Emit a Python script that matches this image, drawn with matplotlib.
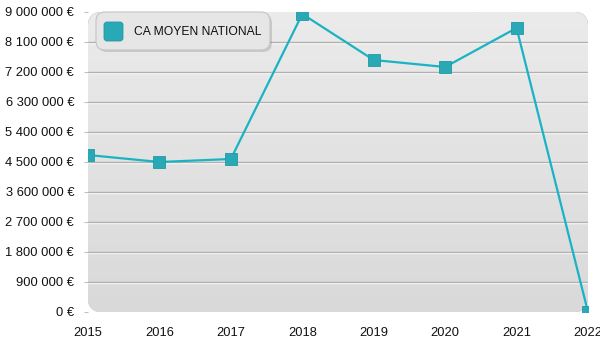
import numpy as np
import matplotlib.pyplot as plt
from matplotlib.colors import LinearSegmentedColormap
from matplotlib.patches import FancyBboxPatch
import matplotlib.transforms as mtransforms

plt.rcParams['font.family'] = ['Liberation Sans', 'DejaVu Sans']

years = [2015, 2016, 2017, 2018, 2019, 2020, 2021, 2022]
ca_moyen = [4710000, 4500000, 4590000, 8940000, 7560000, 7350000, 8520000, 0]
yticks = [0, 900000, 1800000, 2700000, 3600000, 4500000, 5400000, 6300000, 7200000, 8100000, 9000000]
series_label = "CA MOYEN NATIONAL"

line_color = '#1ab3c3'
marker_color = '#28a9b5'


def fmt_euro(v):
    return f"{v:,.0f} €".replace(",", " ")


fig = plt.figure(figsize=(6, 3.5), dpi=100)
ax = fig.add_axes([88 / 600, 38 / 350, 500 / 600, 300 / 350])
ax.set_facecolor('none')

# rounded gradient background
bg = FancyBboxPatch((0, 0), 1, 1, boxstyle="round,pad=0,rounding_size=0.03",
                    transform=ax.transAxes, facecolor='none', edgecolor='#cccccc',
                    lw=0.8, mutation_aspect=500 / 300, zorder=0)
ax.add_patch(bg)
grad = np.linspace(0, 1, 256).reshape(-1, 1)
cmap = LinearSegmentedColormap.from_list('bg', ['#d9d9d9', '#ebebeb'])
img = ax.imshow(grad, cmap=cmap, aspect='auto', origin='lower',
                extent=[2015, 2022, 0, 9000000], zorder=0)
img.set_clip_path(bg)
ax.set_xlim(2015, 2022)
ax.set_ylim(0, 9000000)

# embossed gridlines
ytrans = ax.get_yaxis_transform()
white_off = mtransforms.ScaledTranslation(0, -1 / 100, fig.dpi_scale_trans)
for v in yticks[1:-1]:
    ax.plot([0, 1], [v, v], color='#ffffff', lw=1.0, zorder=1, transform=ytrans + white_off)
    ax.plot([0, 1], [v, v], color='#b0b0b0', lw=1.0, zorder=1.1, transform=ytrans)

ax.plot(years, ca_moyen, color=line_color, lw=1.6, zorder=3)
ax.plot(years, ca_moyen, ls='none', marker='s', ms=9, mfc=marker_color,
        mec='#2199a5', mew=0.6, zorder=4)

for s in ax.spines.values():
    s.set_visible(False)
ax.set_yticks(yticks)
ax.set_yticklabels([fmt_euro(v) for v in yticks])
ax.set_xticks(years)
ax.set_xticklabels([str(y) for y in years])
ax.tick_params(axis='y', length=3, color='#c0c0c0', pad=7, labelsize=9.3, labelcolor='#111111')
ax.tick_params(axis='x', length=0, pad=11, labelsize=9.3, labelcolor='#111111')

# legend box
sh = FancyBboxPatch((98, 298), 174, 38, boxstyle="round,pad=0,rounding_size=9",
                    transform=None, facecolor='#00000022', edgecolor='none', zorder=4.9)
lg = FancyBboxPatch((96, 300), 174, 38, boxstyle="round,pad=0,rounding_size=9",
                    transform=None, facecolor='#e6e6e6', edgecolor='#c4c4c4', lw=0.8, zorder=5)
mk = FancyBboxPatch((104, 309), 19, 19, boxstyle="round,pad=0,rounding_size=3",
                    transform=None, facecolor=marker_color, edgecolor='#2199a5',
                    lw=0.6, zorder=6)
fig.patches.extend([sh, lg, mk])
fig.text(134 / 600, 1 - 32 / 350, series_label, fontsize=8.7, va='center', ha='left',
         color='#111111', zorder=7)

fig.savefig('out.png', dpi=100)
